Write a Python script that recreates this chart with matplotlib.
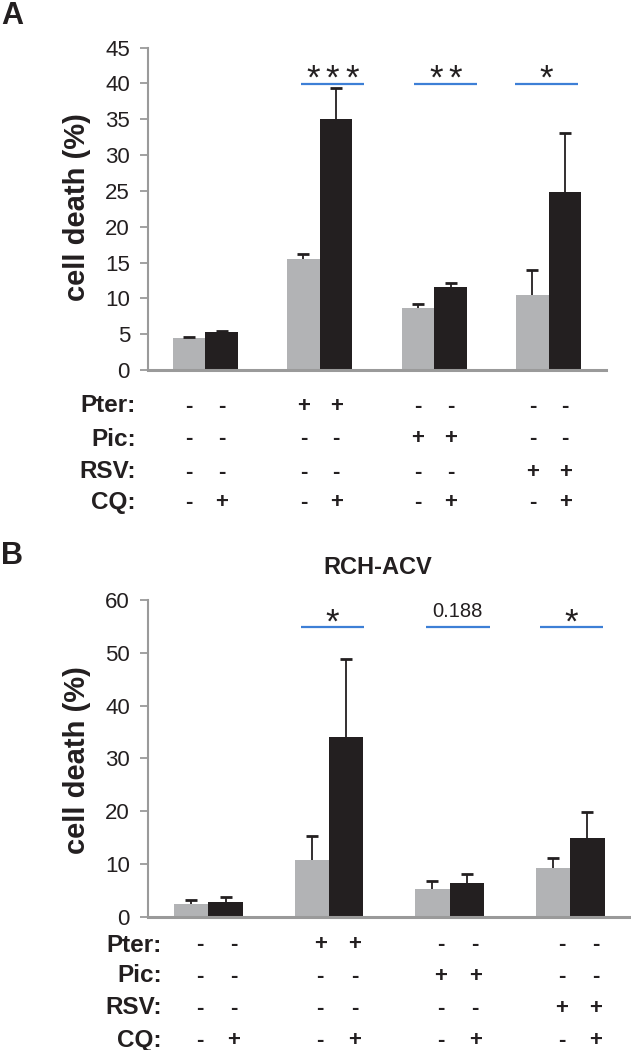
import matplotlib
matplotlib.use("Agg")
import matplotlib.pyplot as plt
import matplotlib.transforms as mtransforms
import numpy as np

plt.rcParams['font.family'] = ['Liberation Sans', 'DejaVu Sans']

# data (cell death %, mean and upper error)
a_ctrl = [4.4, 15.5, 8.7, 10.4]
a_ctrl_err = [0.2, 0.7, 0.5, 3.5]
a_cq = [5.35, 35.0, 11.6, 24.9]
a_cq_err = [0.15, 4.3, 0.6, 8.2]
a_sig = ['***', '**', '*']

b_ctrl = [2.5, 10.7, 5.2, 9.2]
b_ctrl_err = [0.7, 4.6, 1.6, 1.9]
b_cq = [2.7, 34.1, 6.3, 15.0]
b_cq_err = [1.0, 14.8, 1.7, 4.9]
b_sig = ['*', '0.188', '*']

row_labels = ['Pter:', 'Pic:', 'RSV:', 'CQ:']
row_signs = [
    ['-', '-', '+', '+', '-', '-', '-', '-'],
    ['-', '-', '-', '-', '+', '+', '-', '-'],
    ['-', '-', '-', '-', '-', '-', '+', '+'],
    ['-', '+', '-', '+', '-', '+', '-', '+'],
]

GRAY = '#b2b3b5'
BLACK = '#231f20'
BLUE = '#3d7fd6'
AXC = '#9a9a9a'

W, H = 631, 1050
fig = plt.figure(figsize=(W / 100, H / 100), dpi=100)


def px(x, y):
    return x / W, 1 - y / H


def upper_err(ax, x, y, err):
    _, caps, _ = ax.errorbar(x, y, yerr=[np.zeros(len(y)), err], fmt='none',
                             ecolor=BLACK, elinewidth=1.3, capsize=4.5,
                             capthick=2, zorder=3)
    caps[0].set_visible(False)  # keep only the top cap


def panel(rect, ctrl, ctrl_err, cq, cq_err, ymax, ystep, sig, sig_y, sig_off,
          txt_y, rows_y, lab_x, sign_dx):
    ax = fig.add_axes(rect)
    x = np.arange(len(ctrl))
    w = 0.285
    ax.bar(x - w / 2, ctrl, w, color=GRAY, zorder=2)
    ax.bar(x + w / 2, cq, w, color=BLACK, zorder=2)
    upper_err(ax, x - w / 2, ctrl, ctrl_err)
    upper_err(ax, x + w / 2, cq, cq_err)
    ax.set_xlim(-0.5, len(ctrl) - 0.5)
    ax.set_ylim(0, ymax)
    ax.set_yticks(np.arange(0, ymax + 1, ystep))
    ax.set_xticks([])
    for s in ['top', 'right']:
        ax.spines[s].set_visible(False)
    ax.spines['left'].set_color(AXC)
    ax.spines['left'].set_linewidth(1.5)
    ax.spines['bottom'].set_color(AXC)
    ax.spines['bottom'].set_linewidth(2.2)
    ax.tick_params(axis='y', colors=AXC, length=6, width=1.3, labelsize=16,
                   labelcolor=BLACK, pad=7)

    # significance bars
    step = 19.5 * (len(ctrl)) / (rect[2] * W)  # star spacing in data units
    for i, (s, (o1, o2)) in enumerate(zip(sig, sig_off)):
        gx = i + 1
        mid = gx + (o1 + o2) / 2
        ax.plot([gx + o1, gx + o2], [sig_y, sig_y], color=BLUE, lw=1.6,
                solid_capstyle='butt', clip_on=False)
        if s.startswith('*'):
            n = len(s)
            for k in range(n):
                ax.text(mid + (k - (n - 1) / 2) * step, txt_y[0], '*',
                        ha='center', va='baseline', fontsize=25, color=BLACK)
        else:
            ax.text(mid, txt_y[1], s, ha='center', va='baseline',
                    fontsize=14.5, color=BLACK)

    # treatment table
    tr = mtransforms.blended_transform_factory(ax.transData, fig.transFigure)
    bx = np.ravel(np.column_stack([x - w / 2, x + w / 2])) + sign_dx
    for lab, signs, ry in zip(row_labels, row_signs, rows_y):
        fy = 1 - ry / H
        fig.text(lab_x / W, fy, lab, ha='right', va='center', fontsize=17.5,
                 fontweight='bold', color=BLACK)
        for xx, sg in zip(bx, signs):
            ax.text(xx, fy, sg, transform=tr, ha='center', va='center',
                    fontsize=16, fontweight='bold', color=BLACK)
    return ax


# panel A
pa = panel([*px(148, 370), (606 - 148) / W, (370 - 47.5) / H],
           a_ctrl, a_ctrl_err, a_cq, a_cq_err, 45, 5, a_sig, 39.9,
           [(-0.165, 0.388), (-0.174, 0.374), (-0.296, 0.259)],
           (39.3, 0), [406, 439, 472, 502], 136, 0.0)

# panel B
pb = panel([*px(148, 916.7), (630.5 - 148) / W, (916.7 - 600) / H],
           b_ctrl, b_ctrl_err, b_cq, b_cq_err, 60, 10, b_sig, 54.9,
           [(-0.233, 0.290), (-0.195, 0.333), (-0.254, 0.274)],
           (53.8, 56.8), [945, 976, 1008, 1040], 162, 0.07)

fig.text(*px(77, 207.5), 'cell death (%)', rotation=90, ha='center', va='center',
         fontsize=21, fontweight='bold', color=BLACK)
fig.text(*px(77, 760), 'cell death (%)', rotation=90, ha='center', va='center',
         fontsize=21, fontweight='bold', color=BLACK)
fig.text(*px(378, 567), 'RCH-ACV', ha='center', va='center', fontsize=17,
         fontweight='bold', color=BLACK)
fig.text(*px(1, 15.5), 'A', ha='left', va='center', fontsize=22,
         fontweight='bold', color=BLACK)
fig.text(*px(1, 556), 'B', ha='left', va='center', fontsize=22,
         fontweight='bold', color=BLACK)

fig.savefig('out.png', dpi=100)
